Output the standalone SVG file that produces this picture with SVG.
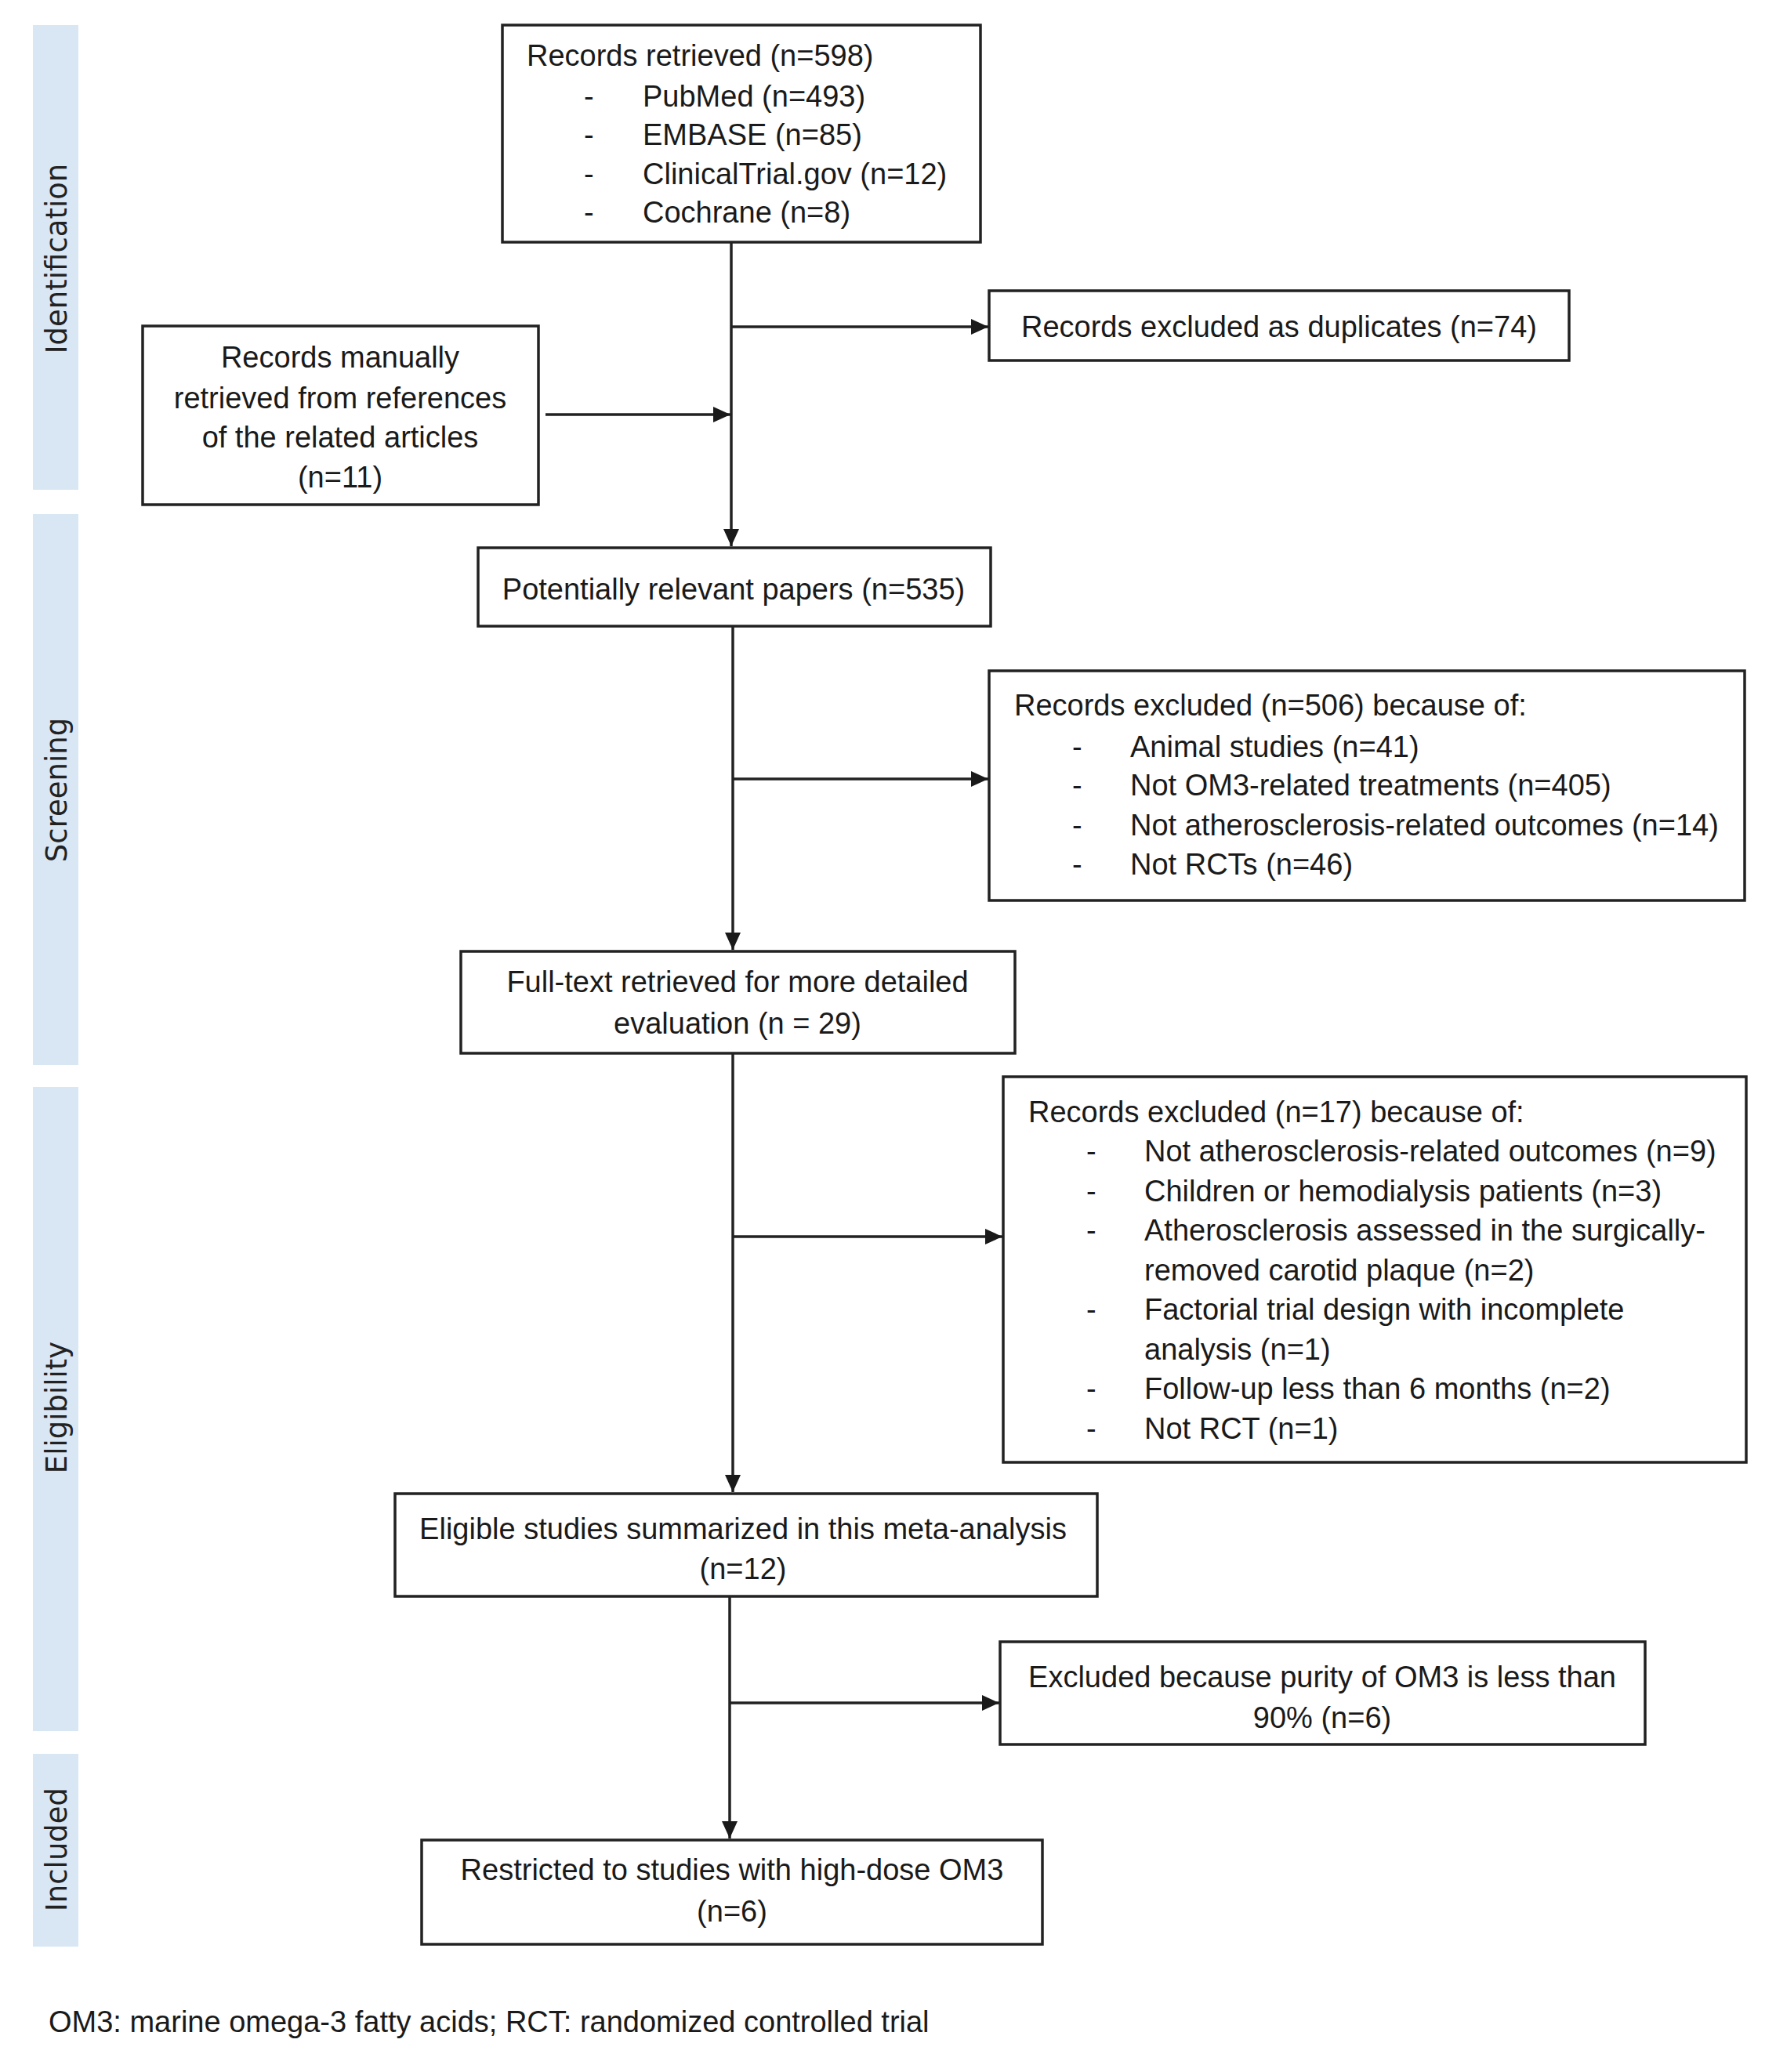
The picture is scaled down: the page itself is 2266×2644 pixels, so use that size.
<svg xmlns="http://www.w3.org/2000/svg" width="2266" height="2644" viewBox="0 0 2266 2644">
<style>
.box{fill:#fff;stroke:#222;stroke-width:3.5}
.band{fill:#d9e7f5}
.lbl{font-family:"DejaVu Sans",sans-serif;font-size:37px;fill:#222;text-anchor:middle}
.t{font-family:"Liberation Sans",Arial,sans-serif;font-size:38px;fill:#1a1a1a}
.c{text-anchor:middle}
.ln{stroke:#222;stroke-width:3.5;fill:none}
</style>
<defs>
<marker id="ah" markerUnits="userSpaceOnUse" markerWidth="24" markerHeight="22" refX="22" refY="10" orient="auto">
<path d="M0,0 L22,10 L0,20 Z" fill="#1a1a1a"/>
</marker>
</defs>
<rect width="2266" height="2644" fill="#fff"/>

<g id="bands">
<rect class="band" x="42" y="32" width="58" height="593"/>
<rect class="band" x="42" y="656" width="58" height="703"/>
<rect class="band" x="42" y="1387" width="58" height="822"/>
<rect class="band" x="42" y="2238" width="58" height="246"/>
<text class="lbl" x="85" y="330" transform="rotate(-90 85 330)">Identification</text>
<text class="lbl" x="85" y="1008" transform="rotate(-90 85 1008)">Screening</text>
<text class="lbl" x="85" y="1796" transform="rotate(-90 85 1796)">Eligibility</text>
<text class="lbl" x="85" y="2360" transform="rotate(-90 85 2360)">Included</text>
</g>

<g id="connectors">
<line class="ln" x1="933" y1="309" x2="933" y2="697" marker-end="url(#ah)"/>
<line class="ln" x1="933" y1="417" x2="1261" y2="417" marker-end="url(#ah)"/>
<line class="ln" x1="696" y1="529" x2="932" y2="529" marker-end="url(#ah)"/>
<line class="ln" x1="935" y1="799" x2="935" y2="1212" marker-end="url(#ah)"/>
<line class="ln" x1="935" y1="994" x2="1261" y2="994" marker-end="url(#ah)"/>
<line class="ln" x1="935" y1="1344" x2="935" y2="1904" marker-end="url(#ah)"/>
<line class="ln" x1="935" y1="1578" x2="1279" y2="1578" marker-end="url(#ah)"/>
<line class="ln" x1="931" y1="2037" x2="931" y2="2346" marker-end="url(#ah)"/>
<line class="ln" x1="931" y1="2173" x2="1275" y2="2173" marker-end="url(#ah)"/>
</g>

<g id="n-retrieved">
<rect class="box" x="641" y="32" width="610" height="277"/>
<text class="t" x="672" y="84">Records retrieved (n=598)</text>
<text class="t" x="745" y="136">-</text><text class="t" x="820" y="136">PubMed (n=493)</text>
<text class="t" x="745" y="185">-</text><text class="t" x="820" y="185">EMBASE (n=85)</text>
<text class="t" x="745" y="235">-</text><text class="t" x="820" y="235">ClinicalTrial.gov (n=12)</text>
<text class="t" x="745" y="284">-</text><text class="t" x="820" y="284">Cochrane (n=8)</text>
</g>

<g id="n-duplicates">
<rect class="box" x="1262" y="371" width="740" height="89"/>
<text class="t c" x="1632" y="430">Records excluded as duplicates (n=74)</text>
</g>

<g id="n-manual">
<rect class="box" x="182" y="416" width="505" height="228"/>
<text class="t c" x="434" y="469">Records manually</text>
<text class="t c" x="434" y="521">retrieved from references</text>
<text class="t c" x="434" y="571">of the related articles</text>
<text class="t c" x="434" y="622">(n=11)</text>
</g>

<g id="n-potential">
<rect class="box" x="610" y="699" width="654" height="100"/>
<text class="t c" x="936" y="765">Potentially relevant papers (n=535)</text>
</g>

<g id="n-excl506">
<rect class="box" x="1262" y="856" width="964" height="293"/>
<text class="t" x="1294" y="913">Records excluded (n=506) because of:</text>
<text class="t" x="1368" y="966">-</text><text class="t" x="1442" y="966">Animal studies (n=41)</text>
<text class="t" x="1368" y="1015">-</text><text class="t" x="1442" y="1015">Not OM3-related treatments (n=405)</text>
<text class="t" x="1368" y="1066">-</text><text class="t" x="1442" y="1066">Not atherosclerosis-related outcomes (n=14)</text>
<text class="t" x="1368" y="1116">-</text><text class="t" x="1442" y="1116">Not RCTs (n=46)</text>
</g>

<g id="n-fulltext">
<rect class="box" x="588" y="1214" width="707" height="130"/>
<text class="t c" x="941" y="1266">Full-text retrieved for more detailed</text>
<text class="t c" x="941" y="1319">evaluation (n = 29)</text>
</g>

<g id="n-excl17">
<rect class="box" x="1280" y="1374" width="948" height="492"/>
<text class="t" x="1312" y="1432">Records excluded (n=17) because of:</text>
<text class="t" x="1386" y="1482">-</text><text class="t" x="1460" y="1482">Not atherosclerosis-related outcomes (n=9)</text>
<text class="t" x="1386" y="1533">-</text><text class="t" x="1460" y="1533">Children or hemodialysis patients (n=3)</text>
<text class="t" x="1386" y="1583">-</text><text class="t" x="1460" y="1583">Atherosclerosis assessed in the surgically-</text>
<text class="t" x="1460" y="1634">removed carotid plaque (n=2)</text>
<text class="t" x="1386" y="1684">-</text><text class="t" x="1460" y="1684">Factorial trial design with incomplete</text>
<text class="t" x="1460" y="1735">analysis (n=1)</text>
<text class="t" x="1386" y="1785">-</text><text class="t" x="1460" y="1785">Follow-up less than 6 months (n=2)</text>
<text class="t" x="1386" y="1836">-</text><text class="t" x="1460" y="1836">Not RCT (n=1)</text>
</g>

<g id="n-eligible">
<rect class="box" x="504" y="1906" width="896" height="131"/>
<text class="t c" x="948" y="1964">Eligible studies summarized in this meta-analysis</text>
<text class="t c" x="948" y="2015">(n=12)</text>
</g>

<g id="n-purity">
<rect class="box" x="1276" y="2095" width="823" height="131"/>
<text class="t c" x="1687" y="2153">Excluded because purity of OM3 is less than</text>
<text class="t c" x="1687" y="2205">90% (n=6)</text>
</g>

<g id="n-restricted">
<rect class="box" x="538" y="2348" width="792" height="133"/>
<text class="t c" x="934" y="2399">Restricted to studies with high-dose OM3</text>
<text class="t c" x="934" y="2452">(n=6)</text>
</g>

<g id="footnote">
<text class="t" x="62" y="2593">OM3: marine omega-3 fatty acids; RCT: randomized controlled trial</text>
</g>
</svg>
